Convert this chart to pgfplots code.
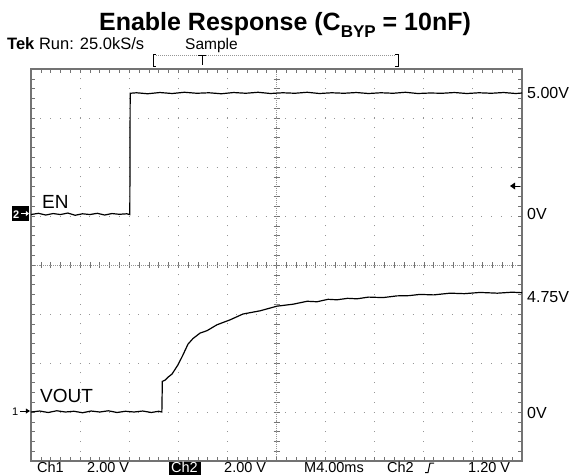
\documentclass[border=0pt]{standalone}
\usepackage{pgfplots}
\pgfplotsset{compat=1.18}
\usepackage{fontspec}
\setmainfont{Liberation Sans}
\definecolor{gridgray}{RGB}{150,150,150}
\definecolor{framegray}{RGB}{115,115,115}
\begin{document}
\begin{tikzpicture}[x=1pt,y=1pt]
\useasboundingbox (-31,-14) rectangle (550,461);
% centre graticule lines (drawn under traces)
\draw[gridgray, line width=0.6pt, dash pattern=on 1pt off 1pt] (245.5,0) -- (245.5,392);
\draw[gridgray, line width=0.6pt, dash pattern=on 1pt off 1pt] (0,196) -- (491,196);
\foreach \i in {1,...,39} {
  \draw[framegray, line width=0.6pt] (242.5,\i*9.8) -- (248.5,\i*9.8);
}
\foreach \i in {1,...,49} {
  \draw[framegray, line width=0.6pt] (\i*9.82,193) -- (\i*9.82,199);
}
\begin{axis}[
  at={(0,0)}, anchor=south west,
  scale only axis, width=491pt, height=392pt,
  xmin=0, xmax=40, ymin=-4, ymax=4,
  xtick={0,4,...,40}, ytick={-4,-3,...,4},
  minor x tick num=4, minor y tick num=4,
  xticklabels={}, yticklabels={},
  tick align=inside,
  major tick length=4pt, minor tick length=4pt,
  tick style={framegray, line width=0.6pt},
  axis line style={framegray, line width=1.6pt},
  grid=major,
  major grid style={gridgray, line width=1pt, dash pattern=on 1pt off 8.8pt, dash phase=0.5pt},
  clip=false,
]
% Ch2: EN (volts), 2 V/div, ground at +1.03 div
\addplot[black, line width=1.2pt] table[x=t, y expr=\thisrow{v}/2+1.03] {
t v
0 0.00
0.6 0.05
1.2 -0.02
1.8 0.04
2.4 0.00
3.0 0.06
3.6 -0.03
4.2 0.03
4.8 0.00
5.4 0.05
6.0 -0.02
6.6 0.04
7.2 0.01
7.8 0.03
8.05 0.00
8.08 4.95
8.6 4.97
9.5 4.93
10.5 4.98
11.5 4.94
12.5 4.99
13.5 4.95
14.5 4.97
15.5 4.93
16.5 4.98
17.5 4.95
18.5 4.99
19.5 4.94
20.5 4.97
21.5 4.95
22.5 4.99
23.5 4.94
24.5 4.97
25.5 4.95
26.5 4.98
27.5 4.94
28.5 4.97
29.5 4.95
30.5 4.99
31.5 4.94
32.5 4.96
33.5 4.95
34.5 4.98
35.5 4.94
36.5 4.97
37.5 4.95
38.5 4.98
39.5 4.94
40 4.96
};
% Ch1: VOUT (volts), 2 V/div, ground at -3 div
\addplot[black, line width=1.2pt] table[x=t, y expr=\thisrow{v}/2-3] {
t v
0 0.00
0.7 0.04
1.4 -0.02
2.1 0.05
2.8 0.00
3.5 0.03
4.2 -0.03
4.9 0.04
5.6 0.00
6.3 0.05
7.0 -0.02
7.7 0.03
8.4 0.00
9.1 0.04
9.8 -0.02
10.4 0.03
10.66 0.00
10.70 1.25
10.92 1.30
11.16 1.42
11.49 1.55
11.98 1.93
12.38 2.33
12.79 2.77
13.20 3.00
13.77 3.22
14.34 3.32
15.15 3.56
16.21 3.76
17.27 4.00
18.66 4.13
20.04 4.32
21.35 4.40
22.50 4.52
23.30 4.50
24.20 4.60
24.93 4.58
25.80 4.64
26.56 4.62
27.50 4.69
28.68 4.67
29.82 4.74
30.80 4.75
31.69 4.80
32.80 4.78
34.14 4.85
35.30 4.83
36.58 4.88
38.00 4.85
39.20 4.89
40.00 4.87
};
\end{axis}
% title and header
\node[anchor=base, font=\fontsize{25}{25}\selectfont\bfseries] at (254,431)
  {Enable Response (C\raisebox{-0.28em}{\fontsize{17}{17}\selectfont BYP} = 10nF)};
\node[anchor=base west, inner sep=0pt, font=\fontsize{16.5}{16.5}\selectfont] at (-24,412)
  {\textbf{Tek} Run: 25.0kS/s};
\node[anchor=base west, inner sep=0pt, font=\fontsize{15.5}{15.5}\selectfont] at (154,412) {Sample};
\draw[black, line width=0.9pt] (125,407) -- (122,407) -- (122,395) -- (125,395);
\draw[black, line width=0.9pt] (364,407) -- (367,407) -- (367,395) -- (364,395);
\draw[gridgray, line width=0.8pt, dash pattern=on 1pt off 1pt] (125,406) -- (364,406);
\draw[black, line width=0.9pt] (167,406) -- (175,406) (171,406) -- (171,396);
% right labels
\node[anchor=base west, inner sep=0pt, font=\fontsize{16}{16}\selectfont] at (496,363) {5.00V};
\node[anchor=base west, inner sep=0pt, font=\fontsize{16}{16}\selectfont] at (496,242) {0V};
\node[anchor=base west, inner sep=0pt, font=\fontsize{16}{16}\selectfont] at (496,159) {4.75V};
\node[anchor=base west, inner sep=0pt, font=\fontsize{16}{16}\selectfont] at (496,43) {0V};
% trace labels
\node[anchor=base west, inner sep=0pt, font=\fontsize{19}{19}\selectfont] at (11,253) {EN};
\node[anchor=base west, inner sep=0pt, font=\fontsize{19}{19}\selectfont] at (9,59) {VOUT};
% channel ground markers
\fill[black] (-19,240) rectangle (-2,255);
\node[anchor=base west, inner sep=0pt, text=white, font=\fontsize{11}{11}\selectfont\bfseries] at (-18,243) {2};
\draw[white, line width=0.8pt] (-10,247.5) -- (-3,247.5);
\fill[white] (-2,247.5) -- (-5,250) -- (-5,245) -- cycle;
\node[anchor=base west, inner sep=0pt, font=\fontsize{11}{11}\selectfont] at (-19,46) {1};
\draw[black, line width=0.8pt] (-11,50) -- (-3,50);
\fill[black] (-1,50) -- (-5,52.5) -- (-5,47.5) -- cycle;
% trigger level marker
\fill[black] (479,275) -- (484,278.5) -- (484,271.5) -- cycle;
\draw[black, line width=1pt] (483,275) -- (489,275);
% bottom readout
\node[anchor=base west, inner sep=0pt, font=\fontsize{14.5}{14.5}\selectfont] at (6,-11.5) {Ch1};
\node[anchor=base west, inner sep=0pt, font=\fontsize{14.5}{14.5}\selectfont] at (56,-11.5) {2.00 V};
\fill[black] (138,-13.5) rectangle (170,-0.8);
\node[anchor=base west, inner sep=0pt, text=white, font=\fontsize{14.5}{14.5}\selectfont] at (140,-11.5) {Ch2};
\node[anchor=base west, inner sep=0pt, font=\fontsize{14.5}{14.5}\selectfont] at (193,-11.5) {2.00 V};
\node[anchor=base west, inner sep=0pt, font=\fontsize{14.5}{14.5}\selectfont] at (273,-11.5) {M4.00ms};
\node[anchor=base west, inner sep=0pt, font=\fontsize{14.5}{14.5}\selectfont] at (356,-11.5) {Ch2};
\draw[black, line width=1pt] (394,-11.5) -- (397,-11.5) -- (399,-2) -- (403,-2);
\node[anchor=base west, inner sep=0pt, font=\fontsize{14.5}{14.5}\selectfont] at (437,-11.5) {1.20 V};
\end{tikzpicture}
\end{document}
